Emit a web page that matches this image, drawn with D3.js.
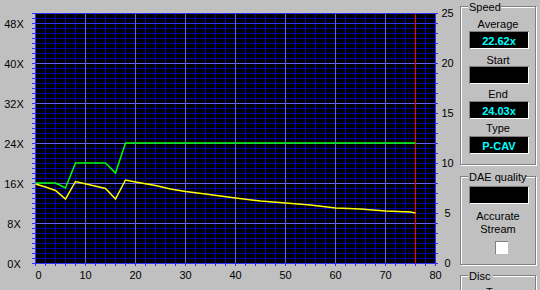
<!DOCTYPE html>
<html>
<head>
<meta charset="utf-8">
<script src="https://cdn.jsdelivr.net/npm/d3@7"></script>
<style>
  html, body { margin: 0; padding: 0; background: #c0c0c0; }
  svg { display: block; }
  text { font-family: "Liberation Sans", Arial, sans-serif; font-size: 11px; fill: #000; }
</style>
</head>
<body>
<svg id="chart" width="540" height="290"></svg>
<script>
// ---- data ----
const xTickValues = [0, 10, 20, 30, 40, 50, 60, 70, 80];
const leftTickValues = [0, 8, 16, 24, 32, 40, 48];
const leftTickLabels = ["0X", "8X", "16X", "24X", "32X", "40X", "48X"];
const rightTickValues = [0, 5, 10, 15, 20, 25];
const rightTickLabels = ["0", "5", "10", "15", "20", "25"];

const greenTime  = [0, 4, 6, 8, 14, 16, 18, 76];
const greenSpeed = [16.1, 16.1, 15.1, 20.1, 20.1, 18.1, 24.1, 24.1];

const yellowTime  = [0, 2, 4, 6, 8, 11, 14, 16, 18, 20, 24, 27, 30, 34, 37, 40, 45, 50, 55, 60, 65, 70, 75, 76];
const yellowSpeed = [15.9, 15.3, 14.6, 12.9, 16.4, 15.7, 15.0, 12.9, 16.7, 16.3, 15.6, 14.9, 14.4, 13.9, 13.5, 13.1, 12.5, 12.1, 11.7, 11.1, 10.9, 10.5, 10.3, 10.1];

const discEnd = 76;

const speedLabels = ["Average", "Start", "End", "Type"];
const speedValues = ["22.62x", "", "24.03x", "P-CAV"];

// ---- layout ----
const svg = d3.select("#chart");
const L = 35, R = 435, T = 13, B = 263;
const x = d3.scaleLinear().domain([0, 80]).range([L + 0.5, R + 0.5]);
const yL = d3.scaleLinear().domain([0, 50]).range([B + 0.5, T + 0.5]);
const yR = d3.scaleLinear().domain([0, 25]).range([B + 0.5, T + 0.5]);

// plot background
svg.append("rect").attr("x", L).attr("y", T).attr("width", R - L).attr("height", B - T).attr("fill", "#000");

const grid = svg.append("g").attr("shape-rendering", "crispEdges");
// minor vertical
d3.range(2, 80, 2).forEach(v => {
  grid.append("line").attr("x1", x(v)).attr("x2", x(v)).attr("y1", T).attr("y2", B)
    .attr("stroke", v % 10 === 0 ? "#6060ff" : "#0000b0").attr("stroke-width", 1);
});
// minor horizontal
d3.range(1, 50, 1).forEach(v => {
  if (v % 8 === 0) return;
  grid.append("line").attr("x1", L).attr("x2", R).attr("y1", yL(v)).attr("y2", yL(v))
    .attr("stroke", "#0000b0").attr("stroke-width", 1);
});
// major horizontal
d3.range(8, 50, 8).forEach(v => {
  grid.append("line").attr("x1", L).attr("x2", R).attr("y1", yL(v)).attr("y2", yL(v))
    .attr("stroke", v === 48 ? "#3030ff" : "#6060ff").attr("stroke-width", 1);
});
// redraw major verticals on top
d3.range(10, 80, 10).forEach(v => {
  grid.append("line").attr("x1", x(v)).attr("x2", x(v)).attr("y1", T).attr("y2", B)
    .attr("stroke", "#6060ff").attr("stroke-width", 1);
});

// axes (border lines and ticks)
const axisColor = "#3030ff";
const axG = svg.append("g").attr("shape-rendering", "crispEdges");
axG.append("rect").attr("x", L + 0.5).attr("y", T + 0.5).attr("width", R - L).attr("height", B - T)
  .attr("fill", "none").attr("stroke", axisColor).attr("stroke-width", 1.5);
// left ticks every 1X
d3.range(0, 51, 1).forEach(v => {
  axG.append("line").attr("x1", L - 3).attr("x2", L).attr("y1", yL(v)).attr("y2", yL(v)).attr("stroke", axisColor);
});
// right ticks every 1 unit
d3.range(0, 26, 1).forEach(v => {
  axG.append("line").attr("x1", R).attr("x2", R + 3).attr("y1", yR(v)).attr("y2", yR(v)).attr("stroke", axisColor);
});
// bottom ticks every 2
d3.range(0, 81, 2).forEach(v => {
  axG.append("line").attr("x1", x(v)).attr("x2", x(v)).attr("y1", B).attr("y2", B + 3).attr("stroke", axisColor);
});

// tick labels
svg.append("g").selectAll("text").data(leftTickValues).join("text")
  .attr("x", 14).attr("y", d => yL(d) + 4).attr("text-anchor", "middle")
  .text((d, i) => leftTickLabels[i]);
svg.append("g").selectAll("text").data(rightTickValues).join("text")
  .attr("x", 447.5).attr("y", d => yR(d) + 3).attr("text-anchor", "middle")
  .text((d, i) => rightTickLabels[i]);
svg.append("g").selectAll("text").data(xTickValues).join("text")
  .attr("x", d => d === 0 ? x(d) + 3 : x(d)).attr("y", 279).attr("text-anchor", "middle")
  .text(d => d);

// red end line
svg.append("line").attr("x1", x(discEnd)).attr("x2", x(discEnd)).attr("y1", T + 1).attr("y2", B)
  .attr("stroke", "#ff0000").attr("stroke-width", 1).attr("shape-rendering", "crispEdges");

// series
const lineGen = d3.line().x(d => x(d[0])).y(d => yL(d[1]));
svg.append("path").datum(greenTime.map((t, i) => [t, greenSpeed[i]]))
  .attr("d", lineGen).attr("fill", "none").attr("stroke", "#00ff00").attr("stroke-width", 1.5);
svg.append("path").datum(yellowTime.map((t, i) => [t, yellowSpeed[i]]))
  .attr("d", lineGen).attr("fill", "none").attr("stroke", "#ffff00").attr("stroke-width", 1.5);

// ---- right panel ----
const panel = svg.append("g");
function groupBox(x0, y0, x1, y1, label, labelW) {
  const g = panel.append("g").attr("shape-rendering", "crispEdges");
  // etched: dark then white
  const path = (dx) => `M${x0 + 8},${y0 + dx} H${x0 + dx} V${y1 + dx} H${x1 + dx} V${y0 + dx} H${x0 + 8 + labelW}`;
  g.append("path").attr("d", path(1.5)).attr("fill", "none").attr("stroke", "#ffffff");
  g.append("path").attr("d", path(0.5)).attr("fill", "none").attr("stroke", "#808080");
  g.append("text").attr("x", x0 + 9).attr("y", y0 + 4.5).attr("font-size", "12px").text(label);
}
groupBox(460, 6, 535, 164, "Speed", 33);
groupBox(460, 176, 535, 264, "DAE quality", 58);
groupBox(460, 275, 535, 300, "Disc", 25);

function sunken(x0, y0, w, h, fill) {
  const g = panel.append("g").attr("shape-rendering", "crispEdges");
  g.append("rect").attr("x", x0).attr("y", y0).attr("width", w).attr("height", h).attr("fill", fill);
  g.append("path").attr("d", `M${x0 + 0.5},${y0 + h} V${y0 + 0.5} H${x0 + w}`).attr("fill", "none").attr("stroke", "#808080");
  g.append("path").attr("d", `M${x0 + 0.5},${y0 + h - 0.5} H${x0 + w - 0.5} V${y0 + 0.5}`).attr("fill", "none").attr("stroke", "#ffffff");
}

const boxTops = [31, 66, 101, 136];
const labelYs = [28, 64, 98, 132];
speedLabels.forEach((lab, i) => {
  panel.append("text").attr("x", 498).attr("y", labelYs[i]).attr("text-anchor", "middle").attr("font-size", "12px").text(lab);
  sunken(469, boxTops[i], 60, 18, "#000");
  panel.append("text").attr("x", 499).attr("y", boxTops[i] + 13.5).attr("text-anchor", "middle")
    .attr("font-size", "12px").attr("font-weight", "bold").style("fill", "#00ffff").text(speedValues[i]);
});

sunken(469, 186, 60, 18, "#000");
panel.append("text").attr("x", 498).attr("y", 220).attr("text-anchor", "middle").attr("font-size", "12px").text("Accurate");
panel.append("text").attr("x", 498).attr("y", 233).attr("text-anchor", "middle").attr("font-size", "12px").text("Stream");
sunken(495, 241, 13, 13, "#ffffff");
panel.append("text").attr("x", 498).attr("y", 296).attr("text-anchor", "middle").attr("font-size", "12px").text("Type");
</script>
</body>
</html>
